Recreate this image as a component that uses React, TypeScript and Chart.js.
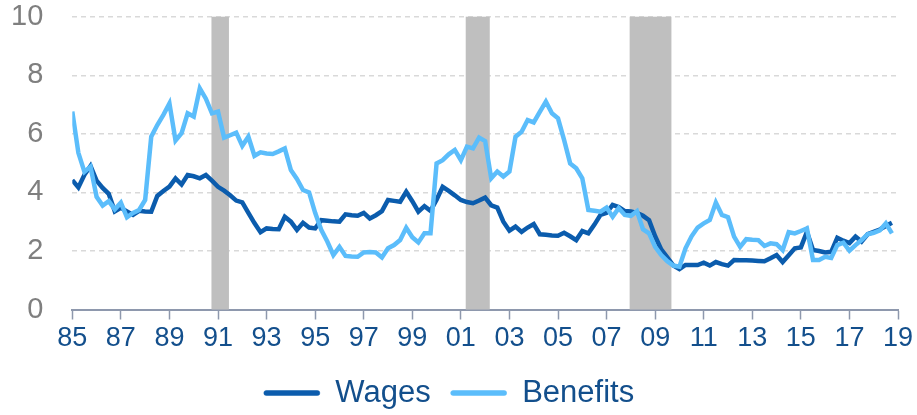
import React, { useEffect, useRef } from "react";
import { Chart, registerables } from "chart.js";

Chart.register(...registerables);

// Quarterly series, 1985 Q1 .. 2018 Q4 (y/y % change)
const startYear = 1985;
const wages: number[] = [
  4.42, 4.17, 4.6, 4.9, 4.4, 4.15, 3.95, 3.35, 3.47, 3.35,
  3.23, 3.37, 3.35, 3.34, 3.88, 4.05, 4.2, 4.48, 4.27, 4.59,
  4.55, 4.48, 4.59, 4.4, 4.19, 4.06, 3.9, 3.72, 3.66, 3.3,
  2.95, 2.64, 2.77, 2.75, 2.74, 3.17, 3.0, 2.72, 2.96, 2.8,
  2.77, 3.05, 3.03, 3.01, 3.0, 3.25, 3.22, 3.2, 3.3, 3.11,
  3.22, 3.36, 3.74, 3.71, 3.68, 4.02, 3.7, 3.34, 3.53, 3.37,
  3.75, 4.19, 4.05, 3.9, 3.74, 3.67, 3.63, 3.72, 3.82, 3.56,
  3.48, 3.0, 2.69, 2.83, 2.65, 2.8, 2.92, 2.57, 2.55, 2.53,
  2.52, 2.62, 2.5, 2.37, 2.68, 2.6, 2.9, 3.23, 3.3, 3.57,
  3.5, 3.36, 3.35, 3.3, 3.2, 3.05, 2.5, 2.05, 1.78, 1.5,
  1.38, 1.52, 1.52, 1.52, 1.6, 1.5, 1.62, 1.55, 1.5, 1.69,
  1.68, 1.68, 1.67, 1.66, 1.65, 1.75, 1.86, 1.62, 1.85, 2.09,
  2.12, 2.65, 2.03, 2.0, 1.95, 1.97, 2.45, 2.35, 2.27, 2.49,
  2.32, 2.57, 2.65, 2.73, 2.85, 2.96,
];
const benefits: number[] = [
  6.76, 5.35, 4.7, 4.88, 3.85, 3.55, 3.7, 3.42, 3.65, 3.15,
  3.3, 3.4, 3.74, 5.9, 6.3, 6.65, 7.04, 5.77, 6.02, 6.7,
  6.59, 7.55, 7.2, 6.7, 6.76, 5.87, 5.95, 6.04, 5.59, 5.9,
  5.25, 5.37, 5.33, 5.31, 5.4, 5.5, 4.76, 4.46, 4.08, 4.0,
  3.3, 2.72, 2.32, 1.86, 2.14, 1.83, 1.81, 1.8, 1.95, 1.96,
  1.95, 1.78, 2.09, 2.2, 2.37, 2.79, 2.47, 2.29, 2.6, 2.6,
  4.99, 5.1, 5.3, 5.45, 5.1, 5.56, 5.5, 5.87, 5.75, 4.48,
  4.71, 4.54, 4.71, 5.9, 6.07, 6.47, 6.39, 6.75, 7.1, 6.7,
  6.53, 5.79, 4.99, 4.82, 4.48, 3.4, 3.37, 3.34, 3.48, 3.17,
  3.46, 3.23, 3.2, 3.36, 2.74, 2.6, 2.14, 1.86, 1.65, 1.5,
  1.46, 2.09, 2.5, 2.8, 2.94, 3.06, 3.65, 3.23, 3.15, 2.49,
  2.14, 2.4, 2.38, 2.37, 2.17, 2.26, 2.23, 2.03, 2.64, 2.6,
  2.68, 2.77, 1.69, 1.69, 1.8, 1.76, 2.2, 2.28, 2.01, 2.2,
  2.37, 2.57, 2.62, 2.7, 2.94, 2.6,
];

const xTickYears: number[] = [1985, 1987, 1989, 1991, 1993, 1995, 1997, 1999, 2001, 2003, 2005, 2007, 2009, 2011, 2013, 2015, 2017, 2019];
const xTickLabels: string[] = ["85", "87", "89", "91", "93", "95", "97", "99", "01", "03", "05", "07", "09", "11", "13", "15", "17", "19"];
const yTicks: number[] = [0, 2, 4, 6, 8, 10];

const recessionStart: number[] = [1990.73, 2001.2, 2007.95];
const recessionEnd: number[] = [1991.45, 2002.19, 2009.67];

const FONT = "'Liberation Sans', Arial, sans-serif";
const WAGES_COLOR = "#0b5cad";
const BENEFITS_COLOR = "#5bbdfb";
const NAVY = "#134f8c";

const recessionPlugin = {
  id: "recessions",
  beforeDatasetsDraw(chart: any) {
    const { ctx, scales } = chart;
    const xs = scales.x;
    const ys = scales.y;
    ctx.save();
    ctx.fillStyle = "#bfbfbf";
    const top = ys.getPixelForValue(10);
    const bottom = ys.getPixelForValue(0);
    recessionStart.forEach((s, i) => {
      const x0 = xs.getPixelForValue(s);
      const x1 = xs.getPixelForValue(recessionEnd[i]);
      ctx.fillRect(x0, top, x1 - x0, bottom - top);
    });
    ctx.restore();
  },
};

export default function App() {
  const ref = useRef<HTMLCanvasElement | null>(null);

  useEffect(() => {
    if (!ref.current) return;
    const toPoints = (arr: number[]) => arr.map((v, i) => ({ x: startYear + i / 4, y: v }));
    const chart = new Chart(ref.current, {
      type: "line",
      data: {
        datasets: [
          {
            label: "Wages",
            data: toPoints(wages),
            borderColor: WAGES_COLOR,
            backgroundColor: WAGES_COLOR,
            borderWidth: 4.5,
            pointRadius: 0,
            tension: 0,
            order: 1,
          },
          {
            label: "Benefits",
            data: toPoints(benefits),
            borderColor: BENEFITS_COLOR,
            backgroundColor: BENEFITS_COLOR,
            borderWidth: 4.5,
            pointRadius: 0,
            tension: 0,
            order: 0,
          },
        ],
      },
      options: {
        animation: false,
        responsive: true,
        maintainAspectRatio: false,
        layout: { padding: { left: 0, right: 19, top: 0, bottom: 0 } },
        plugins: {
          tooltip: { enabled: false },
          legend: {
            position: "bottom",
            maxHeight: 57.5,
            labels: {
              boxWidth: 56,
              boxHeight: 5,
              padding: 20,
              color: NAVY,
              font: { size: 31, family: FONT },
              useBorderRadius: true,
              borderRadius: 2.5,
              sort: (a: any, b: any) => a.datasetIndex - b.datasetIndex,
              generateLabels: (chart: any) =>
                Chart.defaults.plugins.legend.labels
                  .generateLabels(chart)
                  .map((l: any) => ({ ...l, lineWidth: 0.5, fillStyle: l.strokeStyle })),
            },
          },
        },
        scales: {
          x: {
            type: "linear",
            min: 1985,
            max: 2019,
            afterBuildTicks: (axis: any) => {
              axis.ticks = xTickYears.map((v) => ({ value: v }));
            },
            afterFit: (axis: any) => {
              axis.height = 48;
            },
            ticks: {
              autoSkip: false,
              maxRotation: 0,
              padding: 3.3,
              color: NAVY,
              font: { size: 27, family: FONT },
              callback: (_v: any, i: number) => xTickLabels[i],
            },
            grid: {
              drawOnChartArea: false,
              drawTicks: true,
              tickLength: 10,
              tickColor: "#8e98ad",
              tickWidth: 1.5,
              color: "#8e98ad",
            },
            border: { display: true, color: "#8e98ad", width: 2 },
          },
          y: {
            min: 0,
            max: 10,
            afterBuildTicks: (axis: any) => {
              axis.ticks = yTicks.map((v) => ({ value: v }));
            },
            afterFit: (axis: any) => {
              axis.width = 72.3;
              axis.paddingTop = 16.7;
              axis.paddingBottom = 0;
            },
            ticks: {
              padding: 29,
              color: "#7f7f7f",
              font: { size: 29, family: FONT },
            },
            grid: {
              drawTicks: false,
              lineWidth: 1.5,
              color: (ctx: any) => (ctx.tick && ctx.tick.value === 0 ? "rgba(0,0,0,0)" : "#d9d9d9"),
            },
            border: { display: false, dash: [5, 4] },
          },
        },
      },
      plugins: [recessionPlugin],
    } as any);
    return () => chart.destroy();
  }, []);

  return (
    <div style={{ position: "fixed", left: 0, top: 0, width: 917, height: 415, background: "#fff" }}>
      <canvas ref={ref} />
    </div>
  );
}
